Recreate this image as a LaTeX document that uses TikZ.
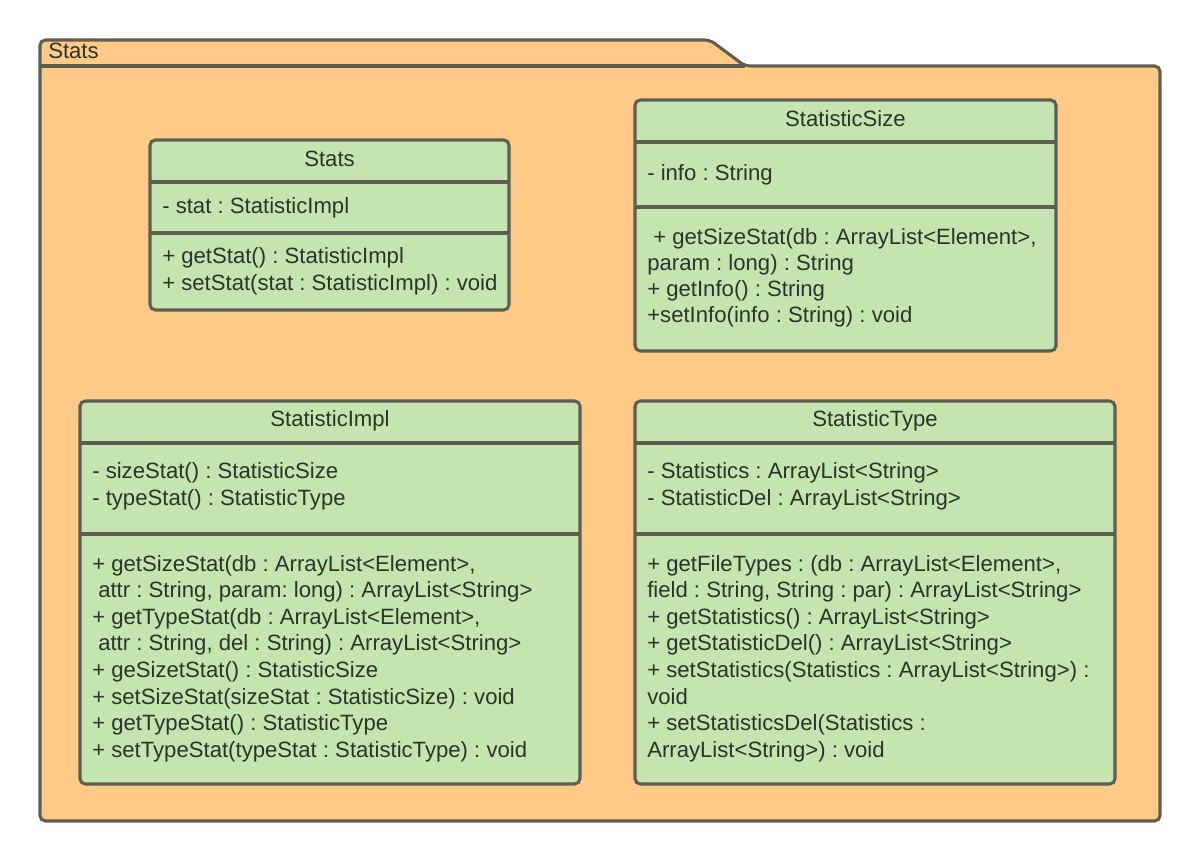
\documentclass[tikz,border=0pt]{standalone}
\usepackage{fontspec}
\setmainfont{Liberation Sans}
\definecolor{linec}{RGB}{94,94,80}
\definecolor{pkgfill}{RGB}{255,201,135}
\definecolor{clsfill}{RGB}{197,229,176}
\definecolor{textc}{RGB}{42,52,42}
\begin{document}
\frenchspacing
\begin{tikzpicture}[x=0.75pt,y=-0.75pt,
  pkg/.style={draw=linec, fill=pkgfill, line width=2.3pt, rounded corners=4pt},
  cls/.style={draw=linec, fill=clsfill, line width=2.3pt, rounded corners=4pt},
  sepline/.style={draw=linec, line width=2.3pt},
  txt/.style={anchor=base west, inner sep=0pt, text=textc, font=\fontsize{16.6}{19.9}\selectfont\frenchspacing},
  ttl/.style={anchor=base, inner sep=0pt, text=textc, font=\fontsize{16.6}{19.9}\selectfont\frenchspacing}]
\useasboundingbox (0,0) rectangle (1200,860);
% package
\draw[pkg] (40,66) -- (40,40) -- (710,40) -- (745,66) -- (1160,66) -- (1160,821) -- (40,821) -- cycle;
\draw[sepline] (40,66) -- (745,66);
\node[txt] (pkgname) at (48,58) {Stats};

% Stats class
\draw[cls] (150,140) rectangle (509,310);
\draw[sepline] (150,182) -- (509,182);
\draw[sepline] (150,233) -- (509,233);
\node[ttl] (stT) at (329.5,166) {Stats};
\node[txt] (stA1) at (162,213) {- stat : StatisticImpl};
\node[txt] (stM1) at (162,263) {+ getStat() : StatisticImpl};
\node[txt] (stM2) at (162,290) {+ setStat(stat : StatisticImpl) : void};

% StatisticSize
\draw[cls] (635,100) rectangle (1056,351);
\draw[sepline] (635,142) -- (1056,142);
\draw[sepline] (635,207) -- (1056,207);
\node[ttl] (ssT) at (845.5,126) {StatisticSize};
\node[txt] (ssA1) at (647,180) {- info : String};
\node[txt] (ssM1) at (653,244) {+ getSizeStat(db : ArrayList<Element>,};
\node[txt] (ssM2) at (647,270) {param : long) : String};
\node[txt] (ssM3) at (647,296) {+ getInfo() : String};
\node[txt] (ssM4) at (647,322) {+setInfo(info : String) : void};

% StatisticImpl
\draw[cls] (80,401) rectangle (580,784);
\draw[sepline] (80,443) -- (580,443);
\draw[sepline] (80,534) -- (580,534);
\node[ttl] (siT) at (330,426) {StatisticImpl};
\node[txt] (siA1) at (92,478) {- sizeStat() : StatisticSize};
\node[txt] (siA2) at (92,505) {- typeStat() : StatisticType};
\node[txt] (siM1) at (92,571) {+ getSizeStat(db : ArrayList<Element>,};
\node[txt] (siM2) at (98,597.6) {attr : String, param: long) : ArrayList<String>};
\node[txt] (siM3) at (92,624.2) {+ getTypeStat(db : ArrayList<Element>,};
\node[txt] (siM4) at (98,650.8) {attr : String, del : String) : ArrayList<String>};
\node[txt] (siM5) at (92,677.4) {+ geSizetStat() : StatisticSize};
\node[txt] (siM6) at (92,704) {+ setSizeStat(sizeStat : StatisticSize) : void};
\node[txt] (siM7) at (92,730.6) {+ getTypeStat() : StatisticType};
\node[txt] (siM8) at (92,757.2) {+ setTypeStat(typeStat : StatisticType) : void};

% StatisticType
\draw[cls] (635,401) rectangle (1115,784);
\draw[sepline] (635,443) -- (1115,443);
\draw[sepline] (635,534) -- (1115,534);
\node[ttl] (stpT) at (875,426) {StatisticType};
\node[txt] (stpA1) at (647,478) {- Statistics : ArrayList<String>};
\node[txt] (stpA2) at (647,505) {- StatisticDel : ArrayList<String>};
\node[txt] (stpM1) at (647,571) {+ getFileTypes : (db : ArrayList<Element>,};
\node[txt] (stpM2) at (647,597.6) {field : String, String : par) : ArrayList<String>};
\node[txt] (stpM3) at (647,624.2) {+ getStatistics() : ArrayList<String>};
\node[txt] (stpM4) at (647,650.8) {+ getStatisticDel() : ArrayList<String>};
\node[txt] (stpM5) at (647,677.4) {+ setStatistics(Statistics : ArrayList<String>) :};
\node[txt] (stpM6) at (647,704) {void};
\node[txt] (stpM7) at (647,730.6) {+ setStatisticsDel(Statistics :};
\node[txt] (stpM8) at (647,757.2) {ArrayList<String>) : void};
\end{tikzpicture}
\end{document}
